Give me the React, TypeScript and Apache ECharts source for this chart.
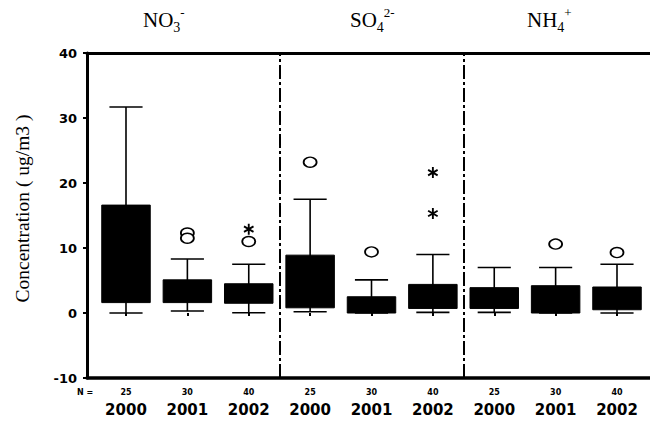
import React, { useEffect, useRef } from "react";
import * as echarts from "echarts";

// ---- data ----
const ionTitles = ["{m|NO}{s|3}{p|-}", "{m|SO}{s|4}{p|2-}", "{m|NH}{s|4}{p|+}"];
const years = ["2000", "2001", "2002", "2000", "2001", "2002", "2000", "2001", "2002"];
const nCounts = [25, 30, 40, 25, 30, 40, 25, 30, 40];
const whiskerLow = [0, 0.3, 0.05, 0.2, 0, 0.1, 0.1, 0, 0];
const q1 = [1.6, 1.6, 1.5, 0.8, 0, 0.7, 0.7, 0, 0.5];
const q3 = [16.6, 5.1, 4.5, 8.9, 2.5, 4.4, 3.9, 4.2, 4.0];
const whiskerHigh = [31.7, 8.3, 7.5, 17.5, 5.1, 9.0, 7.0, 7.0, 7.5];
const circleOutliers: [number, number][] = [
  [1, 12.3], [1, 11.5], [2, 11.0], [3, 23.2], [4, 9.4], [7, 10.6], [8, 9.3],
];
const extremeOutliers: [number, number][] = [[2, 12.9], [5, 21.6], [5, 15.3]];
const separators = [2.5, 5.5];
const yTicks = { min: -10, max: 40, interval: 10 };

// ---- layout constants ----
const X_MIN = -0.6354;
const X_MAX = 8.5377;
const GRID = { left: 87, right: 0, top: 53, bottom: 43 };
const LABEL_GRID = { left: 95.3, right: 2.3, top: 53, bottom: 43 };
const titleLefts = [143, 350, 527];

function asteriskPath(): string {
  const parts: string[] = [];
  const L = 10, t = 1.7, c0 = 12;
  [90, 30, 150].forEach((deg) => {
    const th = (deg * Math.PI) / 180;
    const c = Math.cos(th), s = Math.sin(th);
    const pts = [[-L, -t], [L, -t], [L, t], [-L, t]].map(([x, y]) => [
      c0 + x * c - y * s,
      c0 + x * s + y * c,
    ]);
    parts.push("M" + pts.map((p) => p.map((v) => v.toFixed(2)).join(" ")).join("L") + "Z");
  });
  return "path://" + parts.join("");
}

const titleRich = {
  m: { fontSize: 21, fontWeight: "normal", fontFamily: "Liberation Serif", color: "#000", lineHeight: 28, verticalAlign: "middle" },
  s: { fontSize: 14, fontWeight: "normal", fontFamily: "Liberation Serif", color: "#000", lineHeight: 19, verticalAlign: "bottom" },
  p: { fontSize: 13, fontWeight: "normal", fontFamily: "Liberation Serif", color: "#000", lineHeight: 14, verticalAlign: "top" },
};

export default function App() {
  const ref = useRef<HTMLDivElement>(null);
  useEffect(() => {
    const chart = echarts.init(ref.current!, null, { renderer: "svg" });
    const option: any = {
      animation: false,
      backgroundColor: "#fff",
      title: ionTitles.map((t, i) => ({
        text: t,
        left: titleLefts[i],
        top: 6,
        padding: 0,
        textStyle: { fontWeight: "normal", rich: titleRich },
      })),
      graphic: [
        {
          type: "text",
          left: 77,
          top: 388,
          style: { text: "N =", fontSize: 8, fontWeight: "bold", fontFamily: "DejaVu Sans", fill: "#000" },
        },
      ],
      grid: [
        { ...GRID, containLabel: false },
        { ...LABEL_GRID, containLabel: false },
      ],
      xAxis: [
        {
          type: "value", gridIndex: 0, position: "bottom", min: X_MIN, max: X_MAX,
          axisLine: { show: true, onZero: false, lineStyle: { color: "#000", width: 3.5 } },
          axisTick: { show: false }, axisLabel: { show: false }, splitLine: { show: false },
        },
        {
          type: "value", gridIndex: 0, position: "top", min: X_MIN, max: X_MAX,
          axisLine: { show: true, onZero: false, lineStyle: { color: "#000", width: 3 } },
          axisTick: { show: false }, axisLabel: { show: false }, splitLine: { show: false },
        },
        {
          type: "category", gridIndex: 1, position: "bottom", data: years,
          axisLine: { show: false },
          axisTick: { show: true, alignWithLabel: true, length: 3, lineStyle: { color: "#000", width: 2 } },
          axisLabel: {
            margin: 7,
            interval: 0,
            formatter: (v: string, idx: number) => `{n|${nCounts[idx]}}\n{y|${v}}`,
            rich: {
              n: { fontSize: 8, fontWeight: "bold", fontFamily: "DejaVu Sans", color: "#000", lineHeight: 14 },
              y: { fontSize: 15, fontWeight: "bold", fontFamily: "DejaVu Sans", color: "#000", lineHeight: 22 },
            },
          },
          splitLine: { show: false },
        },
      ],
      yAxis: [
        {
          type: "value", gridIndex: 0, ...yTicks,
          name: "Concentration ( ug/m3 )",
          nameLocation: "middle",
          nameGap: 55,
          nameTextStyle: { fontFamily: "Liberation Serif", fontSize: 19.5, color: "#000", padding: [0, 0, 0, 14] },
          axisLine: { show: true, onZero: false, lineStyle: { color: "#000", width: 3 } },
          axisTick: { show: true, length: 4, lineStyle: { color: "#000", width: 2 } },
          axisLabel: { fontFamily: "DejaVu Sans", fontWeight: "bold", fontSize: 13, color: "#000", margin: 10 },
          splitLine: { show: false },
        },
        { type: "value", gridIndex: 1, ...yTicks, show: false, splitLine: { show: false } },
      ],
      series: [
        {
          type: "custom",
          xAxisIndex: 0,
          yAxisIndex: 0,
          data: years.map((_, i) => [i, whiskerLow[i], q1[i], q3[i], whiskerHigh[i]]),
          encode: { x: 0, y: [1, 2, 3, 4] },
          renderItem: (params: any, api: any) => {
            const x = api.value(0);
            const band = api.size([1, 0])[0];
            const bw = band * 0.79;
            const cw = band * 0.54;
            const pLo = api.coord([x, api.value(1)]);
            const pQ1 = api.coord([x, api.value(2)]);
            const pQ3 = api.coord([x, api.value(3)]);
            const pHi = api.coord([x, api.value(4)]);
            const ls = { stroke: "#000", lineWidth: 1.6 };
            return {
              type: "group",
              children: [
                { type: "line", shape: { x1: pLo[0], y1: pLo[1], x2: pHi[0], y2: pHi[1] }, style: ls },
                { type: "line", shape: { x1: pLo[0] - cw / 2, y1: pLo[1], x2: pLo[0] + cw / 2, y2: pLo[1] }, style: ls },
                { type: "line", shape: { x1: pHi[0] - cw / 2, y1: pHi[1], x2: pHi[0] + cw / 2, y2: pHi[1] }, style: ls },
                {
                  type: "rect",
                  shape: { x: pQ3[0] - bw / 2, y: pQ3[1], width: bw, height: Math.max(pQ1[1] - pQ3[1], 1) },
                  style: { fill: "#000", stroke: "#000", lineWidth: 1 },
                },
              ],
            };
          },
          markLine: {
            silent: true,
            symbol: "none",
            label: { show: false },
            lineStyle: { color: "#000", width: 2, type: [14, 3, 3, 3] },
            data: separators.map((s) => ({ xAxis: s })),
          },
          z: 3,
        },
        {
          type: "scatter",
          xAxisIndex: 0,
          yAxisIndex: 0,
          data: circleOutliers,
          symbol: "circle",
          symbolSize: [13, 10],
          itemStyle: { color: "#fff", borderColor: "#000", borderWidth: 1.6, opacity: 1 },
          z: 4,
        },
        {
          type: "scatter",
          xAxisIndex: 0,
          yAxisIndex: 0,
          data: extremeOutliers,
          symbol: asteriskPath(),
          symbolKeepAspect: true,
          symbolSize: 11,
          itemStyle: { color: "#000", opacity: 1 },
          z: 4,
        },
      ],
    };
    chart.setOption(option);
    return () => chart.dispose();
  }, []);
  return <div ref={ref} style={{ position: "fixed", left: 0, top: 0, width: 650, height: 421 }} />;
}
